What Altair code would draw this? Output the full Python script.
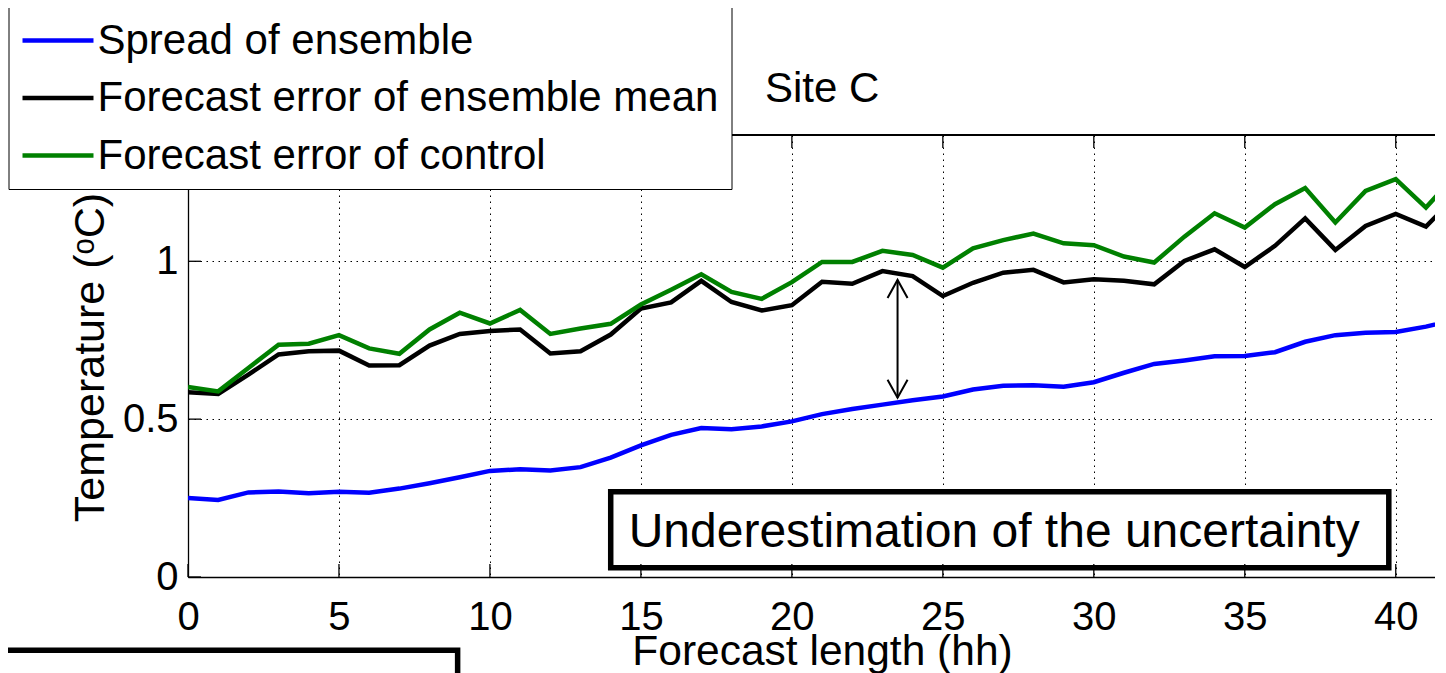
import altair as alt
import pandas as pd

# ---------------- data ----------------
hours = list(range(43))

spread = [0.250, 0.244, 0.268, 0.271, 0.265, 0.270, 0.267, 0.280, 0.297, 0.316,
          0.336, 0.341, 0.337, 0.348, 0.378, 0.417, 0.450, 0.472, 0.468, 0.477,
          0.493, 0.516, 0.532, 0.546, 0.560, 0.572, 0.594, 0.606, 0.607, 0.603,
          0.617, 0.647, 0.675, 0.686, 0.699, 0.700, 0.712, 0.745, 0.766, 0.774,
          0.776, 0.793, 0.815]

err_mean = [0.585, 0.580, 0.641, 0.705, 0.715, 0.717, 0.670, 0.671, 0.733, 0.770,
            0.779, 0.784, 0.708, 0.715, 0.768, 0.850, 0.870, 0.938, 0.871, 0.844,
            0.861, 0.935, 0.929, 0.969, 0.953, 0.890, 0.932, 0.964, 0.973, 0.933,
            0.943, 0.938, 0.927, 1.001, 1.038, 0.982, 1.049, 1.136, 1.036, 1.112,
            1.150, 1.110, 1.207]

err_control = [0.602, 0.588, 0.662, 0.736, 0.739, 0.766, 0.724, 0.707, 0.784, 0.837,
               0.803, 0.846, 0.770, 0.787, 0.802, 0.863, 0.910, 0.959, 0.903, 0.881,
               0.934, 0.998, 0.998, 1.033, 1.020, 0.980, 1.041, 1.067, 1.088, 1.057,
               1.051, 1.015, 0.996, 1.078, 1.152, 1.107, 1.181, 1.232, 1.123, 1.223,
               1.260, 1.170, 1.275]

series_names = ["Spread of ensemble",
                "Forecast error of ensemble mean",
                "Forecast error of control"]
series_colors = ["#0000ff", "#000000", "#008000"]

x_ticks = [0, 5, 10, 15, 20, 25, 30, 35, 40]
y_ticks = [0, 0.5, 1]
x_domain = [0, 41.3]
y_domain = [0, 1.4]

title_text = ["Site C"]
title_pos = [21.0, 1.504]
x_title = "Forecast length (hh)"
y_title = "Temperature (\u1d52C)"

note_text = ["Underestimation of the uncertainty"]
note_text_x = [26.7]
note_text_y = [0.095]
note_box_x = [14.0, 39.77]
note_box_y = [0.029, 0.270]

arrow_x = [23.5]
arrow_y = [0.568, 0.941]

other_box_x = [-8.0, 8.93]
other_box_y = [-0.232, -0.7]

FONT = "Liberation Sans"

# ---------------- tables ----------------
n = len(hours)
df = pd.DataFrame({
    "hour": hours * 3,
    "value": spread + err_mean + err_control,
    "series": [series_names[0]] * n + [series_names[1]] * n + [series_names[2]] * n,
})
xt_df = pd.DataFrame({"t": x_ticks})
yt_df = pd.DataFrame({"t": y_ticks})
note_df = pd.DataFrame({"x1": [note_box_x[0]], "x2": [note_box_x[1]],
                        "y1": [note_box_y[0]], "y2": [note_box_y[1]]})
note_txt_df = pd.DataFrame({"x": note_text_x, "y": note_text_y, "text": note_text})
title_df = pd.DataFrame({"x": [title_pos[0]], "y": [title_pos[1]], "text": title_text})
arrow_df = pd.DataFrame({"x": arrow_x, "y1": [arrow_y[0]], "y2": [arrow_y[1]]})
other_df = pd.DataFrame({"x1": [other_box_x[0]], "x2": [other_box_x[1]],
                         "y1": [other_box_y[0]], "y2": [other_box_y[1]]})

W, H = 1247, 442

xs = alt.Scale(domain=x_domain, nice=False, zero=False)
ys = alt.Scale(domain=y_domain, nice=False, zero=False)

x_axis = alt.Axis(values=x_ticks, grid=True, gridColor="black", gridDash=[1.5, 4.5],
                  gridWidth=1, gridOpacity=1, ticks=False, tickSize=0,
                  domain=True, domainColor="black", domainWidth=1.3,
                  labelFont=FONT, labelFontSize=40, labelColor="black", labelPadding=52,
                  labelBaseline="alphabetic", labelFlush=False, labelOverlap=False,
                  title=x_title, titleFont=FONT, titleFontSize=42.5, titleFontWeight="normal",
                  titleColor="black", titleBaseline="alphabetic", titleAlign="center",
                  titleX=634, titleY=87)
y_axis = alt.Axis(values=y_ticks, format="~g", grid=True, gridColor="black",
                  gridDash=[1.5, 4.5], gridWidth=1, gridOpacity=1, ticks=False, tickSize=0,
                  domain=True, domainColor="black", domainWidth=1.3,
                  labelFont=FONT, labelFontSize=40, labelColor="black", labelPadding=10,
                  labelFlush=False, labelOverlap=False,
                  title=y_title, titleFont=FONT, titleFontSize=43, titleFontWeight="normal",
                  titleColor="black", titleBaseline="bottom", titleAlign="center",
                  titleX=-76, titleY=H / 2 + 1)

legend = alt.Legend(title=None, orient="none", legendX=-179.5, legendY=-128,
                    direction="vertical", fillColor="white", strokeColor="black",
                    padding=12.5, rowPadding=15.5, cornerRadius=0,
                    labelFont=FONT, labelFontSize=42, labelColor="black", labelLimit=2000,
                    labelOffset=18.5, symbolType="M-2,0H2", symbolSize=1260,
                    symbolStrokeWidth=4.5, symbolOffset=16)

color = alt.Color("series:N", scale=alt.Scale(domain=series_names, range=series_colors),
                  legend=legend)


def X(field):
    return alt.X(field, scale=xs, axis=x_axis)


def Y(field):
    return alt.Y(field, scale=ys, axis=y_axis)


def line_layer(name):
    return alt.Chart(df).transform_filter(alt.datum.series == name).mark_line(
        strokeWidth=4.5, clip=True).encode(x=X("hour:Q"), y=Y("value:Q"), color=color)


lines = [line_layer(s) for s in series_names]

other_box = alt.Chart(other_df).mark_rect(fill="white", stroke="black", strokeWidth=5.5).encode(
    x=X("x1:Q"), x2="x2:Q", y=Y("y1:Q"), y2="y2:Q")

note_box = alt.Chart(note_df).mark_rect(fill="white", stroke="black", strokeWidth=5.5).encode(
    x=X("x1:Q"), x2="x2:Q", y=Y("y1:Q"), y2="y2:Q")

note_label = alt.Chart(note_txt_df).mark_text(font=FONT, fontSize=48, align="center",
                                              baseline="alphabetic", color="black").encode(
    x=X("x:Q"), y=Y("y:Q"), text="text:N")

title_label = alt.Chart(title_df).mark_text(font=FONT, fontSize=42, align="center",
                                            baseline="alphabetic", color="black").encode(
    x=X("x:Q"), y=Y("y:Q"), text="text:N")

bottom_ticks = alt.Chart(xt_df).mark_rule(color="black", strokeWidth=1.3).encode(
    x=X("t:Q"), y=alt.value(H), y2=alt.value(H - 13))
top_ticks = alt.Chart(xt_df).mark_rule(color="black", strokeWidth=1.3).encode(
    x=X("t:Q"), y=alt.value(0), y2=alt.value(13))
left_ticks = alt.Chart(yt_df).mark_rule(color="black", strokeWidth=1.3).encode(
    y=Y("t:Q"), x=alt.value(0), x2=alt.value(13))
top_border = alt.Chart(xt_df).mark_rule(color="black", strokeWidth=1.3).encode(
    x=alt.value(0), x2=alt.value(W), y=alt.value(0))

arrow_line = alt.Chart(arrow_df).mark_rule(color="black", strokeWidth=2).encode(
    x=X("x:Q"), y=Y("y1:Q"), y2="y2:Q")
head_top = alt.Chart(arrow_df).mark_point(shape="M-1,1.8L0,0L1,1.8", size=400, filled=False,
                                          color="black", strokeWidth=2, opacity=1).encode(
    x=X("x:Q"), y=Y("y2:Q"))
head_bot = alt.Chart(arrow_df).mark_point(shape="M-1,-1.8L0,0L1,-1.8", size=400, filled=False,
                                          color="black", strokeWidth=2, opacity=1).encode(
    x=X("x:Q"), y=Y("y1:Q"))

chart = alt.layer(
    lines[0], other_box, note_box, note_label, title_label,
    lines[1], lines[2],
    bottom_ticks, top_ticks, left_ticks, top_border,
    arrow_line, head_top, head_bot,
).properties(
    width=W, height=H,
    autosize=alt.AutoSizeParams(type="none"),
    padding={"left": 180, "top": 127, "right": 0, "bottom": 120},
    background="white",
).configure_view(stroke="transparent")

chart.save("out.html", embed_options={"renderer": "svg", "actions": False})
